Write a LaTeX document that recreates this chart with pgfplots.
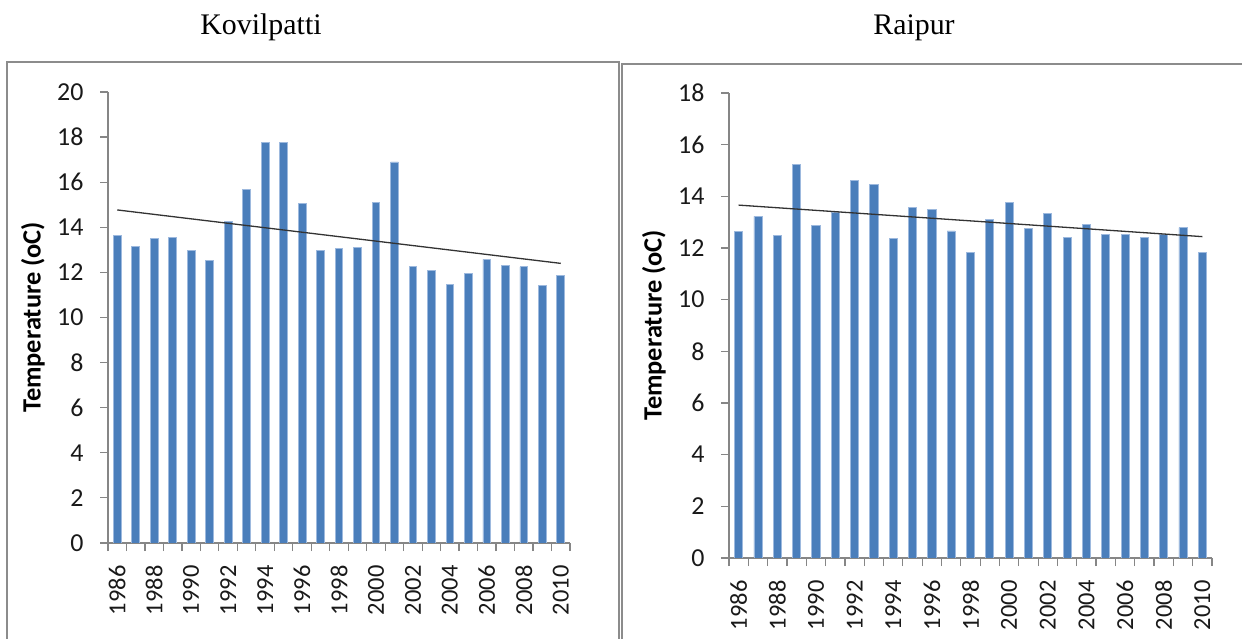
\documentclass[border=0pt]{standalone}
\usepackage{pgfplots}
\pgfplotsset{compat=1.18}
\usepackage{pgfplotstable}
\usepackage{fontspec}
\setmainfont{Liberation Serif}
\newfontfamily\calibri{Carlito}

\definecolor{barblue}{HTML}{4A7EBB}
\definecolor{baredge}{HTML}{9DB9DE}
\definecolor{axgray}{HTML}{868686}
\definecolor{boxgray}{HTML}{8C8C8C}

% mean temperature per year
\pgfplotstableread{
year temp
1986 13.63
1987 13.14
1988 13.50
1989 13.56
1990 12.99
1991 12.52
1992 14.25
1993 15.67
1994 17.75
1995 17.75
1996 15.05
1997 12.99
1998 13.05
1999 13.10
2000 15.09
2001 16.90
2002 12.25
2003 12.08
2004 11.46
2005 11.96
2006 12.58
2007 12.30
2008 12.25
2009 11.41
2010 11.85
}\kovilpatti

\pgfplotstableread{
year temp
1986 12.63
1987 13.22
1988 12.48
1989 15.23
1990 12.87
1991 13.39
1992 14.60
1993 14.46
1994 12.37
1995 13.57
1996 13.50
1997 12.66
1998 11.83
1999 13.09
2000 13.76
2001 12.75
2002 13.32
2003 12.42
2004 12.91
2005 12.54
2006 12.54
2007 12.42
2008 12.54
2009 12.79
2010 11.83
}\raipur

\pgfplotsset{
  tempbars/.style={
    scale only axis,
    axis x line=bottom,
    axis y line=left,
    axis line style={-, draw=axgray, line width=1.2bp},
    xmin=1985.5, xmax=2010.5, ymin=0,
    enlargelimits=false,
    xtick={1986,1988,...,2010},
    major x tick style={draw=none},
    minor xtick={1985.5,1986.5,...,2010.5},
    minor x tick style={draw=axgray, line width=1.2bp},
    minor tick length=8bp,
    major tick length=8bp,
    ytick style={draw=axgray, line width=1.2bp},
    tick align=outside,
    /pgf/number format/assume math mode=true,
    /pgf/number format/set thousands separator={},
    tick label style={font=\calibri\fontsize{26}{26}\selectfont, text=black!90},
    xticklabel style={rotate=90, anchor=east, xshift=-11bp,
      font=\calibri\fontsize{24.5}{24.5}\selectfont},
    yticklabel style={xshift=-13bp},
    ylabel={Temperature (oC)},
    ylabel style={font=\calibri\bfseries\fontsize{26.5}{26.5}\selectfont,
      at={([xshift=-75bp]axis description cs:0,0.5)}, anchor=center},
  },
}

\begin{document}
\begin{tikzpicture}
\useasboundingbox (0,0) rectangle (1242bp,639bp);

% panel frames
\draw[boxgray, line width=2bp] (7bp,-5bp) rectangle (619bp,577bp);
\draw[boxgray, line width=2bp] (622bp,-5bp) rectangle (1250bp,575bp);

\node[font=\fontsize{30}{30}\selectfont, anchor=base] at (261bp,604bp) {Kovilpatti};
\node[font=\fontsize{30}{30}\selectfont, anchor=base] at (914bp,604bp) {Raipur};

\begin{axis}[tempbars,
  at={(108bp,96bp)}, anchor=south west,
  width=462bp, height=451bp,
  ymax=20, ytick={0,2,...,20}]
\addplot[ybar, bar width=0.42, fill=barblue, draw=baredge, line width=0.8bp]
  table[x=year, y=temp] {\kovilpatti};
\addplot[sharp plot, no marks, black!80, line width=1.3bp]
  coordinates {(1986,14.77) (2010,12.40)};
\end{axis}

\begin{axis}[tempbars,
  at={(729bp,81bp)}, anchor=south west,
  width=483bp, height=465bp,
  ymax=18, ytick={0,2,...,18}]
\addplot[ybar, bar width=0.42, fill=barblue, draw=baredge, line width=0.8bp]
  table[x=year, y=temp] {\raipur};
\addplot[sharp plot, no marks, black!80, line width=1.3bp]
  coordinates {(1986,13.66) (2010,12.44)};
\end{axis}
\end{tikzpicture}
\end{document}
